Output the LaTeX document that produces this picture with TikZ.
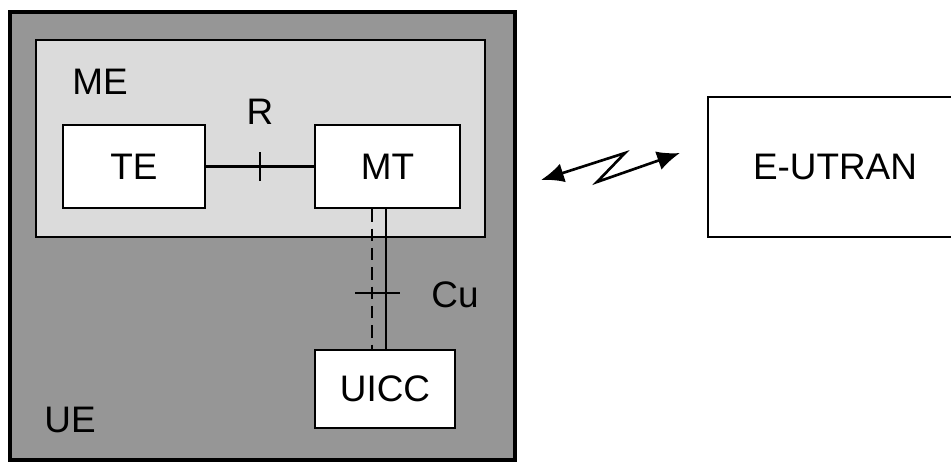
\documentclass[tikz,border=0pt]{standalone}
\usepackage{fontspec}
\setmainfont{Liberation Sans}
\usetikzlibrary{arrows.meta}
\usetikzlibrary{positioning}

\begin{document}
\begin{tikzpicture}[
  unit/.style={draw,fill=white,line width=1.5pt,font=\fontsize{21}{24}\selectfont},
  lbl/.style={font=\fontsize{21}{24}\selectfont},
  link/.style={line width=1.5pt}]
\useasboundingbox (0,0) rectangle (19.02,9.24);
\clip (0,0) rectangle (19.02,9.24);
\draw[fill=black!41,line width=2pt] (0.2,0.04) rectangle (10.3,9.0);
\draw[fill=black!14,line width=1.6pt] (0.72,4.5) rectangle (9.7,8.44);
\node[unit,minimum width=2.84cm,minimum height=1.66cm] (te) at (2.68,5.91) {TE};
\node[unit,minimum width=2.9cm,minimum height=1.66cm] (mt) at (7.75,5.91) {MT};
\node[unit,minimum width=2.8cm,minimum height=1.56cm] (uicc) at (7.7,1.46) {UICC};
\node[unit,minimum width=5.08cm,minimum height=2.8cm] (eutran) at (16.7,5.9) {E-UTRAN};
\node[lbl] (me) at (2.0,7.6) {ME};
\node[lbl] (ue) at (1.4,0.84) {UE};
\node[lbl] (r) at (5.2,7.0) {R};
\node[lbl] (cu) at (9.1,3.35) {Cu};

\draw[link] (te) -- (mt);
\draw[link] (5.2,5.62) -- (5.2,6.2);
\draw[link] (mt.south -| 7.72,0) -- (uicc.north -| 7.72,0);
\draw[link,dash pattern=on 7pt off 4pt] (mt.south -| 7.44,0) -- (uicc.north -| 7.44,0);
\draw[link] (7.1,3.38) -- (8.0,3.38);

\coordinate (wl) at (10.82,5.64);
\coordinate (wr) at (13.6,6.18);
\draw[line width=1.5pt,{Latex[length=13pt,width=11pt]}-{Latex[length=13pt,width=11pt]}]
  (wl) -- (12.5,6.18) -- (11.94,5.6) -- (wr);
\end{tikzpicture}
\end{document}
